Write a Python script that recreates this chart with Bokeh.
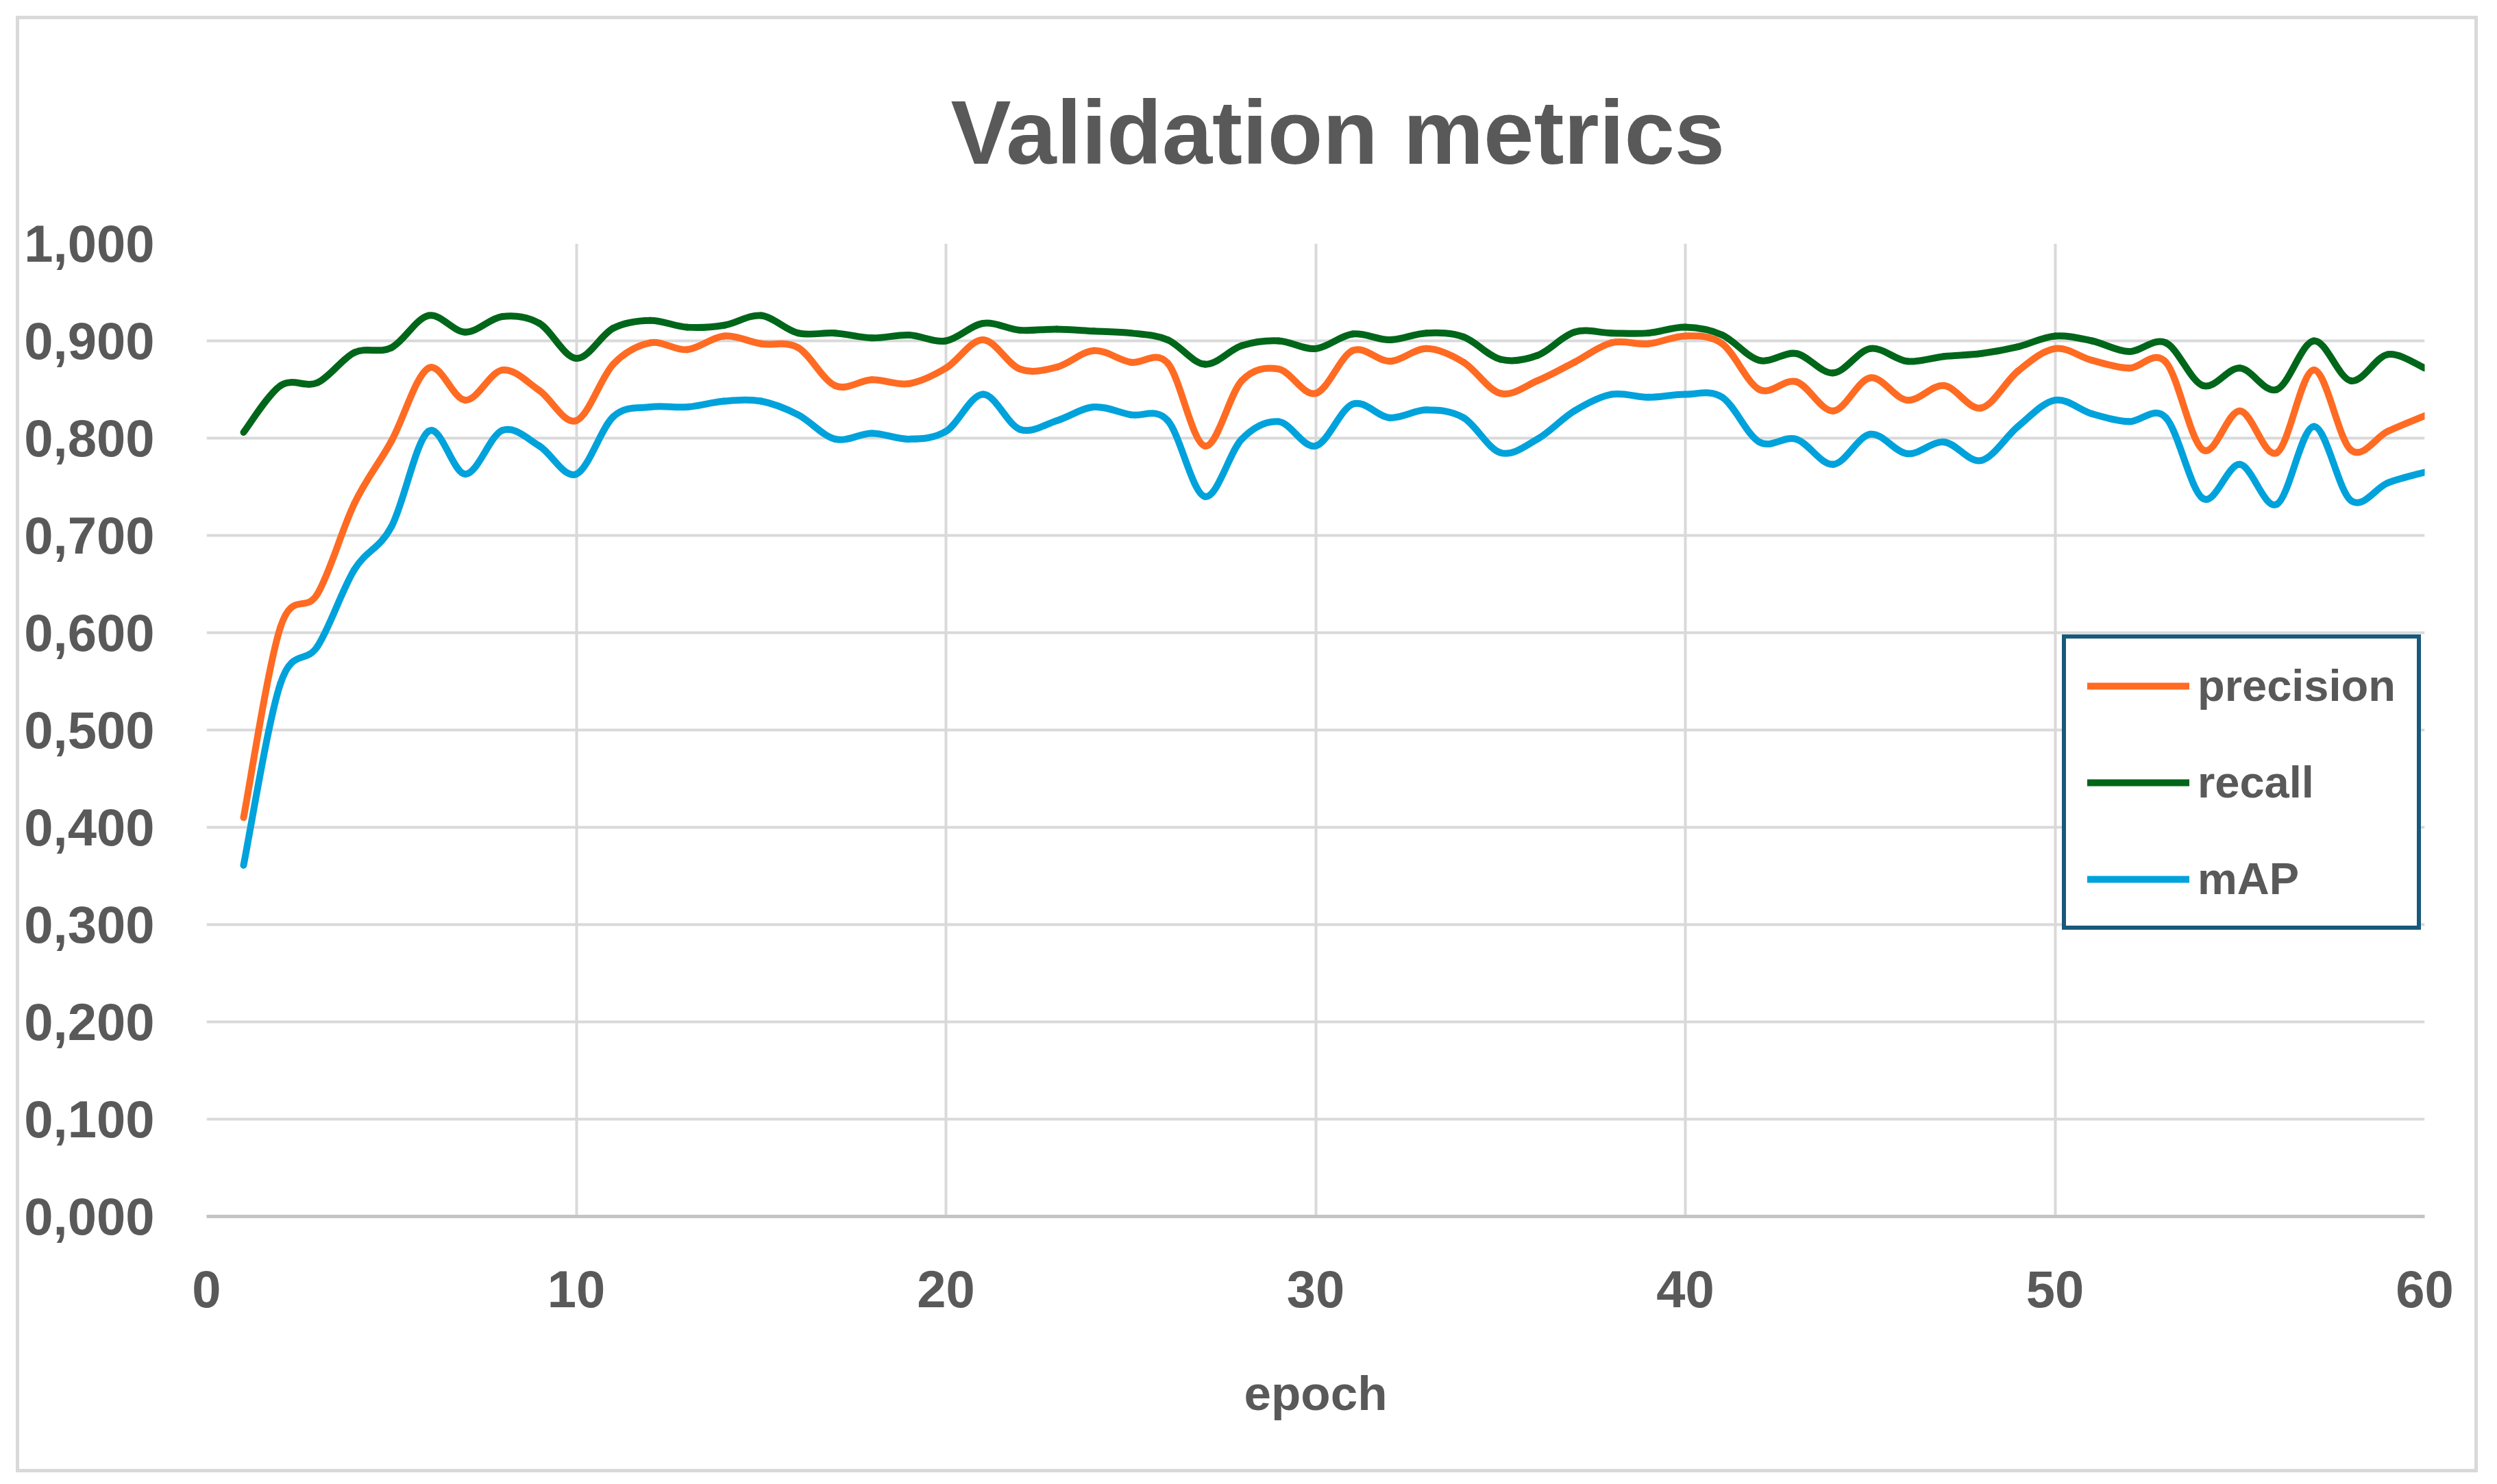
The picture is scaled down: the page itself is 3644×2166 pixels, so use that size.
import numpy as np
from bokeh.plotting import figure
from bokeh.models import (Range1d, FixedTicker, Legend, LegendItem, ColumnDataSource)
from bokeh.embed import file_html
from bokeh.resources import INLINE

# ---------------- data ----------------
epochs = list(range(1, 61))

precision = [0.410, 0.606, 0.640, 0.733, 0.797, 0.872, 0.839, 0.870, 0.849, 0.818,
             0.876, 0.898, 0.891, 0.905, 0.897, 0.893, 0.854, 0.860, 0.856, 0.872,
             0.901, 0.871, 0.873, 0.890, 0.878, 0.877, 0.792, 0.859, 0.871, 0.846,
             0.890, 0.879, 0.892, 0.878, 0.846, 0.859, 0.878, 0.898, 0.897, 0.905,
             0.897, 0.850, 0.858, 0.828, 0.862, 0.839, 0.854, 0.831, 0.869, 0.892,
             0.880, 0.872, 0.878, 0.788, 0.828, 0.785, 0.870, 0.788, 0.807, 0.823]

recall = [0.806, 0.854, 0.857, 0.888, 0.893, 0.926, 0.909, 0.925, 0.918, 0.882,
          0.913, 0.921, 0.914, 0.916, 0.926, 0.908, 0.908, 0.903, 0.906, 0.900,
          0.918, 0.911, 0.912, 0.910, 0.908, 0.901, 0.876, 0.895, 0.900, 0.892,
          0.907, 0.901, 0.908, 0.904, 0.881, 0.885, 0.909, 0.908, 0.908, 0.914,
          0.906, 0.880, 0.887, 0.867, 0.892, 0.879, 0.884, 0.887, 0.894, 0.905,
          0.900, 0.889, 0.898, 0.854, 0.872, 0.850, 0.900, 0.859, 0.886, 0.872]

mAP = [0.361, 0.548, 0.586, 0.665, 0.709, 0.807, 0.763, 0.808, 0.792, 0.763,
       0.822, 0.832, 0.832, 0.838, 0.838, 0.824, 0.799, 0.805, 0.799, 0.807,
       0.845, 0.809, 0.818, 0.832, 0.824, 0.818, 0.740, 0.799, 0.817, 0.792,
       0.835, 0.821, 0.829, 0.821, 0.785, 0.799, 0.828, 0.845, 0.842, 0.845,
       0.842, 0.796, 0.799, 0.773, 0.804, 0.784, 0.796, 0.777, 0.812, 0.839,
       0.825, 0.817, 0.821, 0.738, 0.773, 0.732, 0.812, 0.736, 0.754, 0.765]

series_names = ["precision", "recall", "mAP"]
series_colors = ["#FF6B22", "#00661A", "#00A2DB"]

x_ticks = [0, 10, 20, 30, 40, 50, 60]
y_ticks = [0.0, 0.1, 0.2, 0.3, 0.4, 0.5, 0.6, 0.7, 0.8, 0.9, 1.0]
y_tick_labels = ["0,000", "0,100", "0,200", "0,300", "0,400", "0,500",
                 "0,600", "0,700", "0,800", "0,900", "1,000"]

title_text = "Validation metrics"
x_label = "epoch"

TEXT = "#595959"
FONT = "Liberation Sans"


def smooth_segments(xs, ys, t=1.0 / 6.0):
    """Bezier control points for a smoothed line through the data points."""
    x = np.asarray(xs, float)
    y = np.asarray(ys, float)
    n = len(x)
    xp = np.concatenate([[x[0]], x, [x[-1]]])
    yp = np.concatenate([[y[0]], y, [y[-1]]])
    return dict(
        x0=x[:-1], y0=y[:-1], x1=x[1:], y1=y[1:],
        cx0=x[:-1] + (xp[2:n + 1] - xp[0:n - 1]) * t,
        cy0=y[:-1] + (yp[2:n + 1] - yp[0:n - 1]) * t,
        cx1=x[1:] - (xp[3:n + 2] - xp[1:n]) * t,
        cy1=y[1:] - (yp[3:n + 2] - yp[1:n]) * t,
    )


p = figure(width=3593, height=2126, output_backend="svg", toolbar_location=None,
           x_range=Range1d(0, 60), y_range=Range1d(0, 1),
           min_border_left=273, min_border_right=83,
           min_border_top=327, min_border_bottom=379,
           title=title_text)
p.margin = (23, 0, 0, 23)
p.styles = {"border": "5px solid #D9D9D9"}

p.background_fill_color = "white"
p.border_fill_color = "white"
p.outline_line_color = None

# title
p.title.align = "left"
p.title.offset = 1086
p.title.text_font = FONT
p.title.text_font_style = "bold"
p.title.text_font_size = "132px"
p.title.text_color = TEXT
p.title.standoff = 178

# grid
for g in (p.xgrid, p.ygrid):
    g.grid_line_color = "#D9D9D9"
    g.grid_line_width = 4

# axes
p.xaxis.ticker = FixedTicker(ticks=x_ticks)
p.yaxis.ticker = FixedTicker(ticks=y_ticks)
p.yaxis.major_label_overrides = {t: l for t, l in zip(y_ticks, y_tick_labels)}
for ax in (p.xaxis, p.yaxis):
    ax.major_tick_line_color = None
    ax.minor_tick_line_color = None
    ax.major_tick_out = 0
    ax.major_tick_in = 0
    ax.minor_tick_out = 0
    ax.minor_tick_in = 0
    ax.major_label_text_font = FONT
    ax.major_label_text_font_style = "bold"
    ax.major_label_text_font_size = "76px"
    ax.major_label_text_color = TEXT
p.yaxis.axis_line_color = None
p.xaxis.axis_line_color = "#C4C4C4"
p.xaxis.axis_line_width = 5
p.xaxis.major_label_standoff = 79
p.yaxis.major_label_standoff = 76

p.xaxis.axis_label = x_label
p.xaxis.axis_label_text_font = FONT
p.xaxis.axis_label_text_font_style = "bold"
p.xaxis.axis_label_text_font_size = "71px"
p.xaxis.axis_label_text_color = TEXT
p.xaxis.axis_label_standoff = 83

# lines
renderers = []
for name, vals, col in zip(series_names, [precision, recall, mAP], series_colors):
    src = ColumnDataSource(smooth_segments(epochs, vals))
    r = p.bezier(x0="x0", y0="y0", x1="x1", y1="y1",
                 cx0="cx0", cy0="cy0", cx1="cx1", cy1="cy1",
                 source=src, line_color=col, line_width=10, line_cap="round")
    renderers.append(r)

legend = Legend(items=[LegendItem(label=n, renderers=[r])
                       for n, r in zip(series_names, renderers)],
                location=(2708, 418))
legend.border_line_color = "#17597A"
legend.border_line_alpha = 1.0
legend.border_line_width = 6
legend.background_fill_color = "white"
legend.background_fill_alpha = 1.0
legend.padding = 31
legend.spacing = 66
legend.margin = 0
legend.glyph_width = 149
legend.glyph_height = 60
legend.label_standoff = 12
legend.label_height = 60
legend.label_text_font = FONT
legend.label_text_font_style = "bold"
legend.label_text_font_size = "65px"
legend.label_text_color = TEXT
legend.label_text_baseline = "middle"
p.add_layout(legend)

open("out.html", "w").write(file_html(p, INLINE))
